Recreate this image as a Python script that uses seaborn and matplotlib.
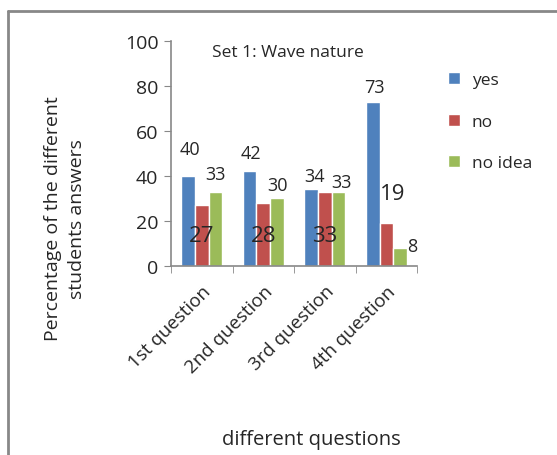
import pandas as pd
import seaborn as sns
import matplotlib.pyplot as plt
from matplotlib.lines import Line2D

sns.set_style("white")
plt.rcParams['font.family'] = ['Open Sans', 'DejaVu Sans']

questions = ["1st question", "2nd question", "3rd question", "4th question"]
answers = ["yes", "no", "no idea"]
yes_vals = [40, 42, 34, 73]
no_vals = [27, 28, 33, 19]
noidea_vals = [33, 30, 33, 8]
colors = ["#4F81BD", "#C0504D", "#9BBB59"]

df = pd.DataFrame({
    "question": questions * 3,
    "answer": [a for a in answers for _ in questions],
    "value": yes_vals + no_vals + noidea_vals,
})

fig = plt.figure(figsize=(5.57, 4.56), dpi=100)
ax = fig.add_axes([0.307, 0.4145, 0.442, 0.4935])
sns.barplot(data=df, x="question", y="value", hue="answer", palette=colors,
            width=0.67, saturation=1, ax=ax, legend=True)

ax.set_ylim(0, 100)
ax.set_xlim(-0.5, 3.5)
ax.set_yticks(range(0, 101, 20))
ax.tick_params(axis="y", labelsize=14, left=True, length=5, color="#888888", pad=4)
ax.set_xticks([-0.5, 0.5, 1.5, 2.5, 3.5], minor=True)
ax.tick_params(axis="x", which="major", bottom=False, labelsize=13.5, pad=8)
ax.tick_params(axis="x", which="minor", bottom=True, length=5, color="#888888")
plt.setp(ax.get_xticklabels(), rotation=45, ha="right", rotation_mode="anchor")
for s in ["top", "right"]:
    ax.spines[s].set_visible(False)
for s in ["left", "bottom"]:
    ax.spines[s].set_color("#888888")
    ax.spines[s].set_linewidth(1.2)

ax.set_ylabel("Percentage of the different\nstudents answers", fontsize=14,
              va="center", linespacing=1.45)
ax.yaxis.set_label_coords(-0.43, 0.215)
ax.set_xlabel("different questions", fontsize=14.5)
ax.xaxis.set_label_coords(0.57, -0.725)

ax.text(0.476, 0.985, "Set 1: Wave nature", transform=ax.transAxes,
        ha="center", va="top", fontsize=12.5)

# data labels (placed the way the original spreadsheet placed them)
off = 0.67 / 3
yes_dy = [8, 4, 2, 2.5]
yes_dx = [0.03, 0.02, 0.06, 0.03]
noidea_dy = [4, 2, 0.3, 0]
noidea_dx = [0, 0, 0.05, 0]
for i, v in enumerate(yes_vals):
    ax.text(i - off + yes_dx[i], v + yes_dy[i], str(v), ha="center", va="bottom",
            fontsize=13)
for i, v in enumerate(noidea_vals):
    if i == 3:
        ax.text(i + off + 0.12, v + 1, str(v), ha="left", va="center", fontsize=13)
    else:
        ax.text(i + off + noidea_dx[i], v + noidea_dy[i], str(v), ha="center",
                va="bottom", fontsize=13)
for i, v in enumerate(no_vals):
    if i == 3:
        ax.text(i + 0.1, v + 13, str(v), ha="center", va="center", fontsize=16)
    else:
        ax.text(i, 13.5, str(v), ha="center", va="center", fontsize=16)

leg = ax.legend(loc="upper left", bbox_to_anchor=(1.06, 0.93), frameon=False,
                fontsize=12.5, handlelength=0.7, handleheight=0.7,
                labelspacing=1.45, handletextpad=0.7)

# outer chart border
fig.add_artist(Line2D([8 / 557, 8 / 557], [0, 1 - 12 / 456],
                      transform=fig.transFigure, color="#888888", lw=2))
fig.add_artist(Line2D([8 / 557, 1], [1 - 12 / 456, 1 - 12 / 456],
                      transform=fig.transFigure, color="#888888", lw=2))

fig.savefig("out.png", dpi=100)
